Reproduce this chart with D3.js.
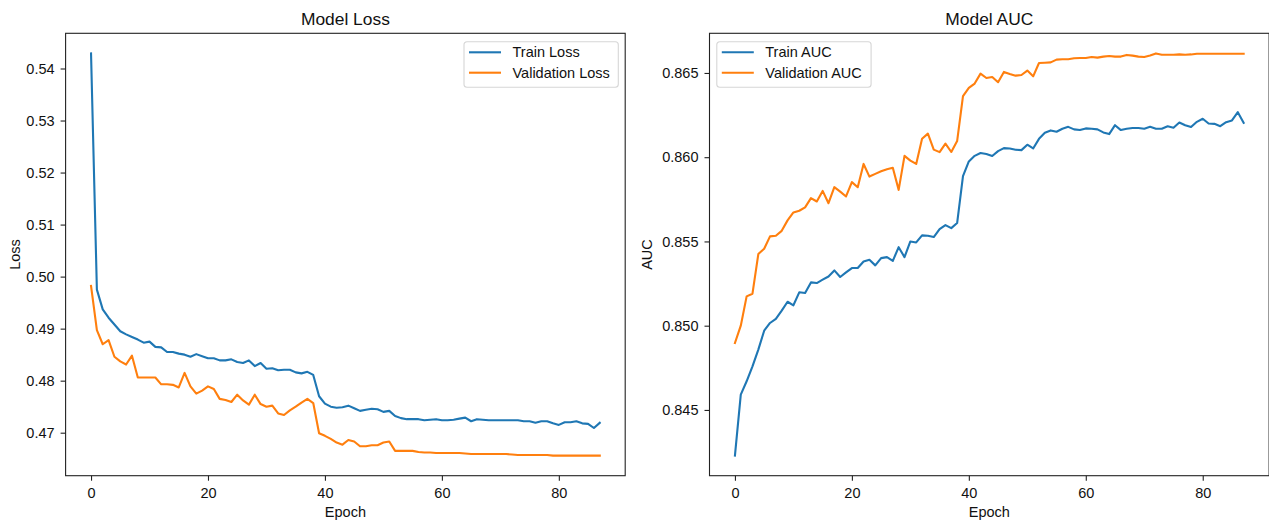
<!DOCTYPE html>
<html>
<head>
<meta charset="utf-8">
<script src="https://cdn.jsdelivr.net/npm/d3@7"></script>
<style>
  body { margin: 0; background: #fff; }
  svg { display: block; font-family: "Liberation Sans", Arial, sans-serif; }
</style>
</head>
<body>
<div id="chart"></div>
<script>
// values, one per epoch
const trainLoss = [
  0.5429, 0.4975, 0.4937, 0.4921, 0.4908, 0.4895, 0.4889, 0.4884, 0.4879, 0.4873,
  0.4875, 0.4865, 0.4864, 0.4855, 0.4855, 0.4852, 0.4850, 0.4846, 0.4851, 0.4847,
  0.4843, 0.4843, 0.4839, 0.4839, 0.4841, 0.4836, 0.4834, 0.4839, 0.4828, 0.4834,
  0.4823, 0.4824, 0.4820, 0.4821, 0.4821, 0.4816, 0.4814, 0.4817, 0.4811, 0.4770,
  0.4756, 0.4750, 0.4748, 0.4749, 0.4752, 0.4747, 0.4742, 0.4744, 0.4746, 0.4745,
  0.4740, 0.4742, 0.4732, 0.4728, 0.4726, 0.4726, 0.4726, 0.4724, 0.4725, 0.4726,
  0.4724, 0.4724, 0.4725, 0.4727, 0.4729, 0.4722, 0.4726, 0.4725, 0.4724, 0.4724,
  0.4724, 0.4724, 0.4724, 0.4724, 0.4722, 0.4722, 0.4719, 0.4722, 0.4722, 0.4718,
  0.4715, 0.4720, 0.4720, 0.4722, 0.4718, 0.4717, 0.4709, 0.4719
];
const valLoss = [
  0.4982, 0.4897, 0.4870, 0.4878, 0.4846, 0.4837, 0.4831, 0.4848, 0.4806, 0.4806,
  0.4806, 0.4806, 0.4793, 0.4793, 0.4792, 0.4787, 0.4815, 0.4789, 0.4775, 0.4781,
  0.4789, 0.4784, 0.4765, 0.4763, 0.4759, 0.4773, 0.4762, 0.4754, 0.4773, 0.4755,
  0.4750, 0.4752, 0.4737, 0.4734, 0.4743, 0.4750, 0.4758, 0.4765, 0.4757, 0.4699,
  0.4694, 0.4688, 0.4681, 0.4677, 0.4686, 0.4683, 0.4674, 0.4674, 0.4676, 0.4676,
  0.4681, 0.4683, 0.4665, 0.4665, 0.4665, 0.4665, 0.4663, 0.4662, 0.4662, 0.4661,
  0.4661, 0.4661, 0.4661, 0.4661, 0.4660, 0.4659, 0.4659, 0.4659, 0.4659, 0.4659,
  0.4659, 0.4659, 0.4658, 0.4657, 0.4657, 0.4657, 0.4657, 0.4657, 0.4657, 0.4656,
  0.4656, 0.4656, 0.4656, 0.4656, 0.4656, 0.4656, 0.4656, 0.4656
];
const trainAuc = [
  0.84229, 0.84591, 0.84670, 0.84759, 0.84858, 0.84970, 0.85016, 0.85040, 0.85089, 0.85142,
  0.85121, 0.85198, 0.85194, 0.85257, 0.85253, 0.85273, 0.85292, 0.85328, 0.85289, 0.85316,
  0.85342, 0.85342, 0.85381, 0.85391, 0.85358, 0.85401, 0.85407, 0.85385, 0.85466, 0.85407,
  0.85500, 0.85494, 0.85536, 0.85534, 0.85526, 0.85573, 0.85597, 0.85579, 0.85609, 0.85887,
  0.85975, 0.86008, 0.86025, 0.86019, 0.86007, 0.86036, 0.86054, 0.86052, 0.86044, 0.86042,
  0.86074, 0.86052, 0.86109, 0.86145, 0.86159, 0.86151, 0.86169, 0.86180, 0.86165, 0.86161,
  0.86171, 0.86169, 0.86165, 0.86147, 0.86137, 0.86190, 0.86161, 0.86169, 0.86173, 0.86173,
  0.86169, 0.86180, 0.86169, 0.86169, 0.86184, 0.86175, 0.86206, 0.86190, 0.86179, 0.86210,
  0.86228, 0.86200, 0.86198, 0.86184, 0.86208, 0.86218, 0.86267, 0.86204
];
const valAuc = [
  0.84897, 0.85000, 0.85174, 0.85190, 0.85425, 0.85457, 0.85530, 0.85534, 0.85563, 0.85625,
  0.85672, 0.85682, 0.85702, 0.85757, 0.85737, 0.85800, 0.85727, 0.85822, 0.85796, 0.85767,
  0.85852, 0.85822, 0.85960, 0.85885, 0.85901, 0.85917, 0.85929, 0.85937, 0.85806, 0.86008,
  0.85980, 0.85960, 0.86109, 0.86140, 0.86045, 0.86030, 0.86081, 0.86031, 0.86096, 0.86362,
  0.86411, 0.86437, 0.86496, 0.86470, 0.86476, 0.86445, 0.86506, 0.86494, 0.86484, 0.86488,
  0.86514, 0.86480, 0.86559, 0.86561, 0.86563, 0.86579, 0.86581, 0.86581, 0.86587, 0.86589,
  0.86589, 0.86595, 0.86591, 0.86597, 0.86601, 0.86597, 0.86597, 0.86607, 0.86603, 0.86597,
  0.86595, 0.86603, 0.86616, 0.86608, 0.86608, 0.86608, 0.86610, 0.86608, 0.86610, 0.86614,
  0.86614, 0.86614, 0.86614, 0.86614, 0.86614, 0.86614, 0.86614, 0.86614
];

const epochTicks = [0, 20, 40, 60, 80];
const lossTicks = [0.47, 0.48, 0.49, 0.50, 0.51, 0.52, 0.53, 0.54];
const aucTicks = [0.845, 0.850, 0.855, 0.860, 0.865];

const blue = '#1f77b4';
const orange = '#ff7f0e';
const fontSize = 14.5;

const W = 1269, H = 520;
const svg = d3.select('#chart').append('svg')
    .attr('width', W)
    .attr('height', H);

// matplotlib style: 5% padding round the data
function padded(ext){
    const m = (ext[1] - ext[0]) * 0.05;
    return [ext[0] - m, ext[1] + m];
}

function drawPanel(p){
    const g = svg.append('g');
    const n = p.series[0].values.length;

    const x = d3.scaleLinear()
        .domain(padded([0, n - 1]))
        .range([p.left, p.right]);

    const allVals = p.series.flatMap(s => s.values);
    const y = d3.scaleLinear()
        .domain(padded(d3.extent(allVals)))
        .range([p.bottom, p.top]);

    // axes
    const xAxis = g.append('g')
        .attr('transform', `translate(0,${p.bottom})`)
        .call(d3.axisBottom(x).tickValues(epochTicks).tickSize(5).tickPadding(7).tickFormat(d3.format('d')));
    const yAxis = g.append('g')
        .attr('transform', `translate(${p.left},0)`)
        .call(d3.axisLeft(y).tickValues(p.ticks).tickSize(5).tickPadding(6).tickFormat(d3.format(p.fmt)));

    [xAxis, yAxis].forEach(a => {
        a.select('.domain').remove();
        a.selectAll('line').attr('stroke', '#222').attr('stroke-width', 1.1);
        a.selectAll('text')
            .attr('fill', '#111')
            .attr('font-size', fontSize)
            .attr('font-family', '"Liberation Sans", Arial, sans-serif');
    });

    // lines
    const line = d3.line()
        .x((d, i) => x(i))
        .y(d => y(d));

    p.series.forEach(s => {
        g.append('path')
            .datum(s.values)
            .attr('fill', 'none')
            .attr('stroke', s.color)
            .attr('stroke-width', 2.1)
            .attr('stroke-linejoin', 'round')
            .attr('stroke-linecap', 'square')
            .attr('d', line);
    });

    // frame
    g.append('rect')
        .attr('x', p.left)
        .attr('y', p.top)
        .attr('width', p.right - p.left)
        .attr('height', p.bottom - p.top)
        .attr('fill', 'none')
        .attr('stroke', '#222')
        .attr('stroke-width', 1.1);

    // title and axis labels
    const cx = (p.left + p.right) / 2;
    g.append('text')
        .attr('x', cx)
        .attr('y', 25)
        .attr('text-anchor', 'middle')
        .attr('font-size', 17.4)
        .attr('fill', '#111')
        .text(p.title);

    g.append('text')
        .attr('x', cx)
        .attr('y', 516.5)
        .attr('text-anchor', 'middle')
        .attr('font-size', fontSize)
        .attr('fill', '#111')
        .text('Epoch');

    g.append('text')
        .attr('transform', `translate(${p.ylabelX},${(p.top + p.bottom) / 2}) rotate(-90)`)
        .attr('text-anchor', 'middle')
        .attr('dy', '0.35em')
        .attr('font-size', fontSize)
        .attr('fill', '#111')
        .text(p.ylabel);

    // legend
    const lg = g.append('g').attr('transform', `translate(${p.legendX},41.7)`);
    lg.append('rect')
        .attr('width', 154.3)
        .attr('height', 45.6)
        .attr('rx', 3)
        .attr('fill', '#fff')
        .attr('fill-opacity', 0.8)
        .attr('stroke', '#d6d6d6')
        .attr('stroke-width', 1.1);

    p.series.forEach((s, i) => {
        const ly = 10.6 + i * 20.4;
        lg.append('line')
            .attr('x1', 5).attr('x2', 37)
            .attr('y1', ly).attr('y2', ly)
            .attr('stroke', s.color)
            .attr('stroke-width', 2.1);
        lg.append('text')
            .attr('x', 48.5)
            .attr('y', ly)
            .attr('dy', '0.35em')
            .attr('font-size', fontSize)
            .attr('fill', '#111')
            .text(s.name);
    });
}

drawPanel({
    title: 'Model Loss', ylabel: 'Loss', ylabelX: 15,
    left: 65.6, right: 625.2, top: 33.3, bottom: 475.7,
    ticks: lossTicks, fmt: '.2f', legendX: 464,
    series: [
        {name: 'Train Loss', values: trainLoss, color: blue},
        {name: 'Validation Loss', values: valLoss, color: orange}
    ]
});

drawPanel({
    title: 'Model AUC', ylabel: 'AUC', ylabelX: 647,
    left: 709.5, right: 1269.1, top: 33.3, bottom: 475.7,
    ticks: aucTicks, fmt: '.3f', legendX: 716.8,
    series: [
        {name: 'Train AUC', values: trainAuc, color: blue},
        {name: 'Validation AUC', values: valAuc, color: orange}
    ]
});
</script>
</body>
</html>
